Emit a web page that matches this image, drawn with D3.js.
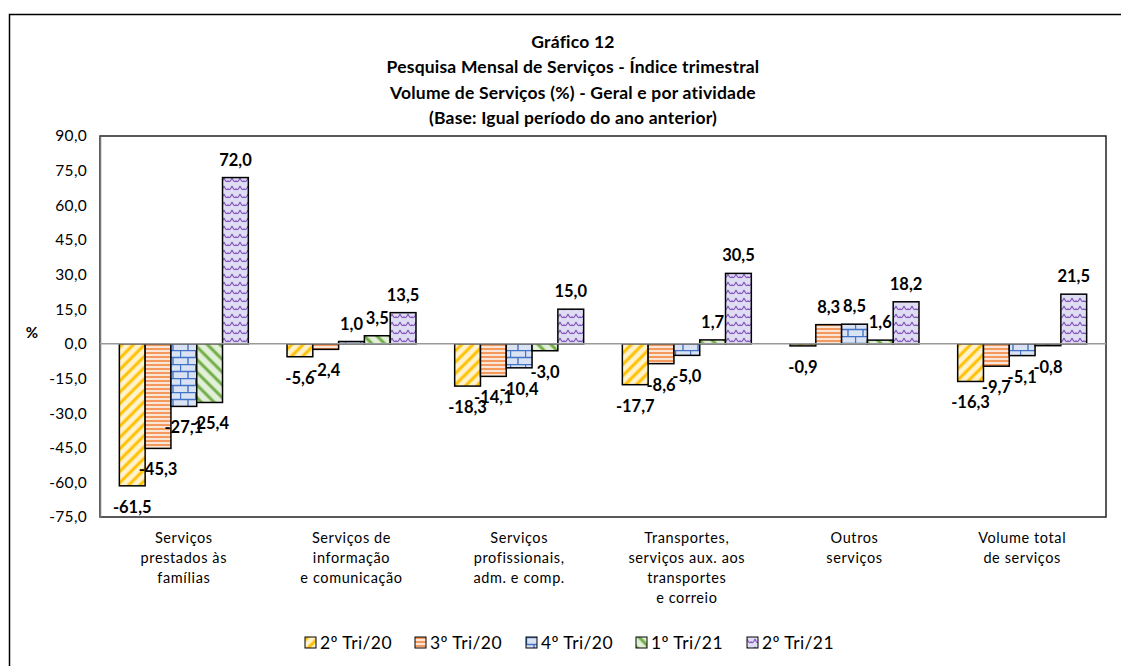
<!DOCTYPE html>
<html>
<head>
<meta charset="utf-8">
<script src="https://cdn.jsdelivr.net/npm/d3@7"></script>
<style>
  body { margin: 0; background: #fff; }
  text { font-family: Lato, "Open Sans", sans-serif; fill: #000; }
</style>
</head>
<body>
<div id="vis"></div>
<script>
//-- Data
var categories = [
  ["Serviços", "prestados às", "famílias"],
  ["Serviços de", "informação", "e comunicação"],
  ["Serviços", "profissionais,", "adm. e comp."],
  ["Transportes,", "serviços aux. aos", "transportes", "e correio"],
  ["Outros", "serviços"],
  ["Volume total", "de serviços"]
];
var series = ["2º Tri/20", "3º Tri/20", "4º Tri/20", "1º Tri/21", "2º Tri/21"];
var tri2_20 = [-61.5, -5.6, -18.3, -17.7, -0.9, -16.3];
var tri3_20 = [-45.3, -2.4, -14.1, -8.6, 8.3, -9.7];
var tri4_20 = [-27.1, 1.0, -10.4, -5.0, 8.5, -5.1];
var tri1_21 = [-25.4, 3.5, -3.0, 1.7, 1.6, -0.8];
var tri2_21 = [72.0, 13.5, 15.0, 30.5, 18.2, 21.5];
var values = [tri2_20, tri3_20, tri4_20, tri1_21, tri2_21];
var yTicks = [-75, -60, -45, -30, -15, 0, 15, 30, 45, 60, 75, 90];
var titleLines = [
  "Gráfico 12",
  "Pesquisa Mensal de Serviços  - Índice trimestral",
  "Volume de Serviços (%) - Geral e por atividade",
  "(Base: Igual período do ano anterior)"
];

//-- Setup
var width = 1121, height = 666;
var plot = { left: 100, right: 1106, top: 136, bottom: 517 };

var svg = d3.select("#vis").append("svg")
  .attr("width", width).attr("height", height);

var fmt = function (v) { return d3.format(".1f")(v).replace(".", ",").replace("−", "-"); };

// patterns
var defs = svg.append("defs");
function pat(id, w, h, bg, transform) {
  var p = defs.append("pattern").attr("id", id)
    .attr("patternUnits", "userSpaceOnUse")
    .attr("width", w).attr("height", h);
  if (transform) p.attr("patternTransform", transform);
  p.append("rect").attr("width", w).attr("height", h).attr("fill", bg);
  return p;
}
var p0 = pat("p0", 8, 8, "#FFF2CC", "rotate(45)");
p0.append("line").attr("x1", 2).attr("x2", 2).attr("y1", 0).attr("y2", 8)
  .attr("stroke", "#FFC000").attr("stroke-width", 3);
var p1 = pat("p1", 4, 4, "#FBE5D6");
p1.append("line").attr("x1", 0).attr("x2", 4).attr("y1", 1).attr("y2", 1)
  .attr("stroke", "#F4904F").attr("stroke-width", 1.8);
var p2 = pat("p2", 15, 14, "#DAE3F3");
p2.append("path")
  .attr("d", "M0,0.5H15M0,7.5H15M0.5,0.5V7.5M8,7.5V14")
  .attr("stroke", "#4472C4").attr("stroke-width", 1.4).attr("fill", "none");
var p3 = pat("p3", 9, 9, "#E2F0D9", "rotate(-45)");
p3.append("line").attr("x1", 2).attr("x2", 2).attr("y1", 0).attr("y2", 9)
  .attr("stroke", "#70AD47").attr("stroke-width", 3);
var p4 = pat("p4", 8, 8, "#DEDDF2");
p4.append("path").attr("d", "M0,2 Q2,7 4,5 Q6,7 8,2")
  .attr("stroke", "#8A5CC0").attr("stroke-width", 1.3).attr("fill", "none");
var fills = ["url(#p0)", "url(#p1)", "url(#p2)", "url(#p3)", "url(#p4)"];

// outer border
svg.append("rect").attr("x", 9.5).attr("y", 14.5)
  .attr("width", 1130).attr("height", 680)
  .attr("fill", "none").attr("stroke", "#000").attr("stroke-width", 1.5);

// title
svg.append("g").selectAll("text").data(titleLines).enter().append("text")
  .attr("x", 573).attr("y", function (d, i) { return 48 + i * 25.3; })
  .attr("text-anchor", "middle").attr("font-weight", "bold")
  .attr("font-size", 17.5).attr("letter-spacing", 0.2)
  .text(function (d) { return d; });

//-- Scales
var x = d3.scaleBand().domain(d3.range(categories.length))
  .range([plot.left, plot.right]).padding(0);
var xs = d3.scaleBand().domain(d3.range(series.length))
  .range([0, x.bandwidth()]).paddingInner(0).paddingOuter(0.75);
var y = d3.scaleLinear().domain([-75, 90]).range([plot.bottom, plot.top]);

// plot frame
svg.append("rect").attr("x", plot.left).attr("y", plot.top)
  .attr("width", plot.right - plot.left).attr("height", plot.bottom - plot.top)
  .attr("fill", "none").attr("stroke", "#222").attr("stroke-width", 1.5);

// y axis
var yAxis = svg.append("g").attr("transform", "translate(" + plot.left + ",0)")
  .call(d3.axisLeft(y).tickValues(yTicks).tickSize(0).tickPadding(13).tickFormat(fmt));
yAxis.select(".domain").attr("stroke", "#777").attr("stroke-width", 1.5);
yAxis.selectAll("text").attr("font-size", 15.5).attr("letter-spacing", 0.3)
  .style("font-family", "Lato, sans-serif");

svg.append("text").attr("x", 32).attr("y", 338).attr("text-anchor", "middle")
  .attr("font-size", 15).attr("font-weight", "bold").text("%");

// bars
var groups = svg.append("g").selectAll("g").data(series).enter().append("g");
groups.each(function (s, si) {
  var g = d3.select(this);
  var vals = values[si];
  g.selectAll("rect").data(vals).enter().append("rect")
    .attr("x", function (d, ci) { return x(ci) + xs(si); })
    .attr("width", xs.bandwidth())
    .attr("y", function (d) { return y(Math.max(0, d)); })
    .attr("height", function (d) { return Math.abs(y(d) - y(0)); })
    .attr("fill", fills[si]).attr("stroke", "#000").attr("stroke-width", 1.5);
});

// zero line
svg.append("line").attr("x1", plot.left).attr("x2", plot.right)
  .attr("y1", y(0)).attr("y2", y(0))
  .attr("stroke", "#999").attr("stroke-width", 1.5);

// data labels
groups.each(function (s, si) {
  var g = d3.select(this);
  g.selectAll("text").data(values[si]).enter().append("text")
    .attr("x", function (d, ci) { return x(ci) + xs(si) + xs.bandwidth() / 2; })
    .attr("y", function (d) { return d >= 0 ? y(d) - 12 : y(d) + 27; })
    .attr("text-anchor", "middle").attr("font-weight", "bold")
    .attr("font-size", 16.5).text(function (d) { return fmt(d); });
});

// category labels
var cl = svg.append("g").selectAll("text").data(categories).enter().append("text")
  .attr("text-anchor", "middle").attr("font-size", 14.5).attr("letter-spacing", 0.6)
  .attr("x", function (d, i) { return x(i) + x.bandwidth() / 2; })
  .attr("y", 543);
cl.selectAll("tspan").data(function (d) { return d; }).enter().append("tspan")
  .attr("x", function () { return d3.select(this.parentNode).attr("x"); })
  .attr("dy", function (d, i) { return i === 0 ? 0 : 20; })
  .text(function (d) { return d; });

// legend
var legX = [305, 415, 526, 636, 747];
var leg = svg.append("g").selectAll("g").data(series).enter().append("g")
  .attr("transform", function (d, i) { return "translate(" + legX[i] + ",637)"; });
leg.append("rect").attr("width", 11).attr("height", 11)
  .attr("fill", function (d, i) { return fills[i]; })
  .attr("stroke", "#000").attr("stroke-width", 1);
leg.append("text").attr("x", 15).attr("y", 12).attr("font-size", 17.5)
  .attr("letter-spacing", 0.4)
  .text(function (d) { return d; });
</script>
</body>
</html>
